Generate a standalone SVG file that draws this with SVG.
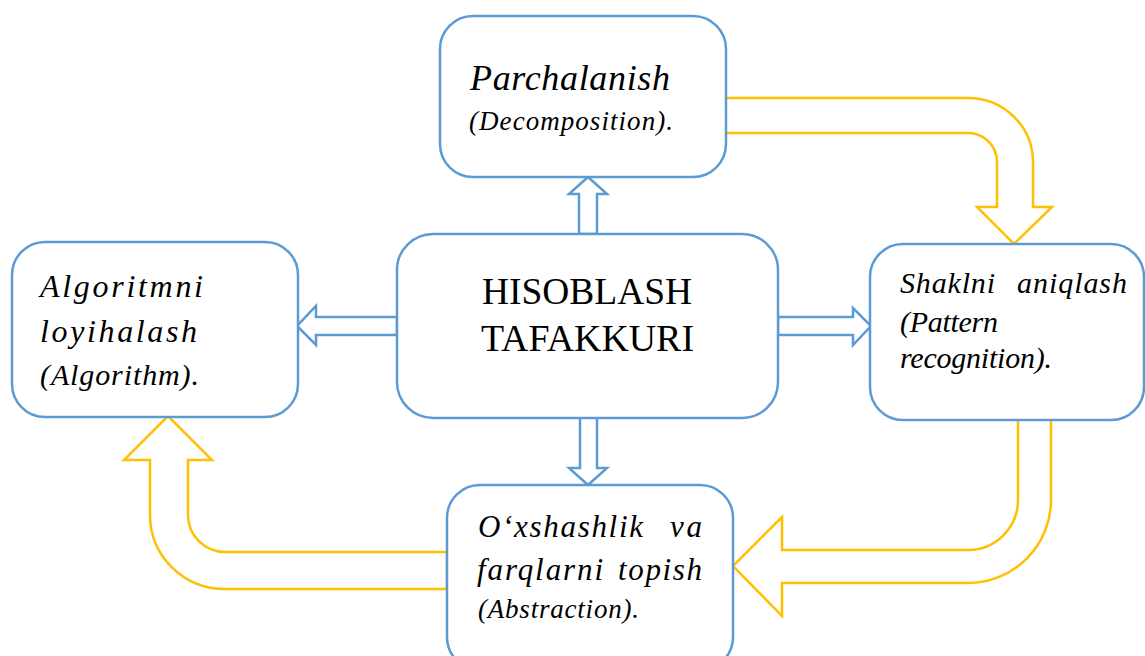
<svg xmlns="http://www.w3.org/2000/svg" width="1145" height="656" viewBox="0 0 1145 656">
<style>
.box{fill:#fff;stroke:#5B9BD5;stroke-width:2.5}
.barr{fill:#fff;stroke:#5B9BD5;stroke-width:2.5;stroke-linejoin:miter}
.yarr{fill:#fff;stroke:#FFC000;stroke-width:2.5;stroke-linejoin:miter}
.t{font-family:"Liberation Serif","Times New Roman",serif;font-style:italic;fill:#000}
.c{font-family:"Liberation Serif","Times New Roman",serif;fill:#000;font-size:37px}
</style>
<rect width="1145" height="656" fill="#fff"/>
<g id="connectors">
<path class="yarr" d="M725,98 H968 A65,64 0 0 1 1033,162 V207 H1052 L1014,244 L977,207 H997 V162 A29,29 0 0 0 968,133 H725 Z"/>
<path class="yarr" d="M1018,419 V500 A50,50 0 0 1 968,550 H782 V517 L733,566 L782,616 V583 H968 A83,83 0 0 0 1051,500 V419 Z"/>
<path class="yarr" d="M447,552 H225 A37,37 0 0 1 188,515 V460 H212 L168,416 L124,460 H150 V515 A75,74 0 0 0 225,589 H447 Z"/>
<path class="barr" d="M579,234 V194 H569 L588,177 L607,194 H597 V234 Z"/>
<path class="barr" d="M580,417 V468 H569 L588,485 L607,468 H597 V417 Z"/>
<path class="barr" d="M397,317 H316 V306 L297,326 L316,345 V335 H397 Z"/>
<path class="barr" d="M778,317 H853 V308 L871,326 L853,345 V335 H778 Z"/>
</g>
<g id="node-center">
<rect class="box" x="397" y="234" width="381" height="184" rx="36"/>
<text class="c" x="482" y="304" textLength="210" lengthAdjust="spacingAndGlyphs">HISOBLASH</text>
<text class="c" x="481" y="351" textLength="213" lengthAdjust="spacingAndGlyphs">TAFAKKURI</text>
</g>
<g id="node-decomposition">
<rect class="box" x="440" y="16" width="286" height="161" rx="33"/>
<text class="t" x="470" y="90" font-size="36" textLength="200" lengthAdjust="spacing">Parchalanish</text>
<text class="t" x="469" y="130" font-size="27" textLength="204" lengthAdjust="spacing">(Decomposition).</text>
</g>
<g id="node-algorithm">
<rect class="box" x="12" y="242" width="286" height="175" rx="33"/>
<text class="t" x="40" y="297" font-size="32" textLength="163" lengthAdjust="spacing">Algoritmni</text>
<text class="t" x="40" y="342" font-size="32" textLength="157" lengthAdjust="spacing">loyihalash</text>
<text class="t" x="40" y="385" font-size="30" textLength="159" lengthAdjust="spacing">(Algorithm).</text>
</g>
<g id="node-pattern">
<rect class="box" x="870" y="244" width="274" height="176" rx="33"/>
<text class="t" x="900" y="293" font-size="30" textLength="95" lengthAdjust="spacing">Shaklni</text>
<text class="t" x="1017" y="293" font-size="30" textLength="110" lengthAdjust="spacing">aniqlash</text>
<text class="t" x="900" y="332" font-size="30" textLength="98" lengthAdjust="spacing">(Pattern</text>
<text class="t" x="900" y="368" font-size="30" textLength="152" lengthAdjust="spacing">recognition).</text>
</g>
<g id="node-abstraction">
<rect class="box" x="447" y="485" width="286" height="185" rx="33"/>
<text class="t" x="478" y="537" font-size="31" textLength="165" lengthAdjust="spacing">O‘xshashlik</text>
<text class="t" x="670" y="537" font-size="31" textLength="32" lengthAdjust="spacing">va</text>
<text class="t" x="477" y="580" font-size="31" textLength="126" lengthAdjust="spacing">farqlarni</text>
<text class="t" x="618" y="580" font-size="31" textLength="84" lengthAdjust="spacing">topish</text>
<text class="t" x="478" y="618" font-size="27" textLength="161" lengthAdjust="spacing">(Abstraction).</text>
</g>
</svg>
